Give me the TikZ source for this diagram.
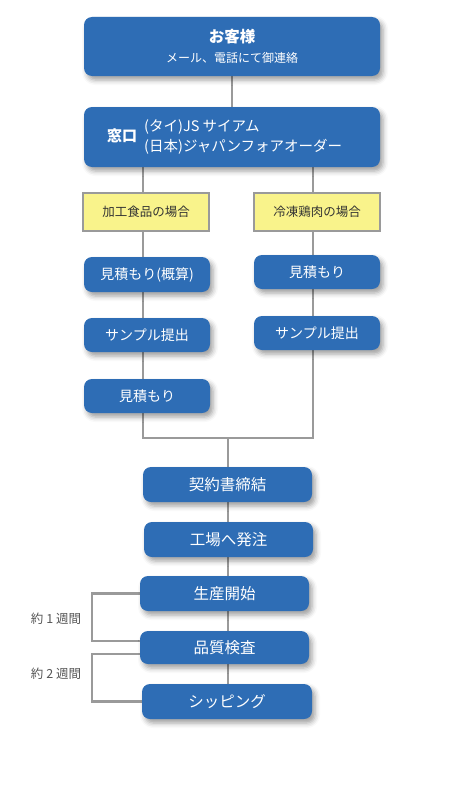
\documentclass[tikz,border=0pt]{standalone}
\usepackage{fontspec}
\setmainfont{Noto Sans CJK JP}
\usetikzlibrary{shadows.blur,backgrounds}
\definecolor{boxblue}{HTML}{2E6DB5}
\definecolor{linegray}{HTML}{9A9A9A}
\definecolor{noteyellow}{HTML}{F9F38B}
\definecolor{labgray}{HTML}{555555}
\begin{document}
\begin{tikzpicture}[x=1pt,y=-1pt,
  bluebox/.style={rectangle, rounded corners=8pt, fill=boxblue, text=white, inner sep=0pt, align=center,
    blur shadow={shadow xshift=3pt, shadow yshift=-4pt, shadow opacity=38, shadow blur radius=5pt}},
  colbox/.style={bluebox, minimum width=126pt, minimum height=34pt, font=\fontsize{14}{16}\selectfont},
  midbox/.style={bluebox, minimum width=169pt, minimum height=35pt, font=\fontsize{15.5}{17}\selectfont},
  casebox/.style={rectangle, fill=noteyellow, draw=linegray, line width=2.5pt, minimum width=126pt, minimum height=38pt,
    inner sep=0pt, text=black!80, font=\fontsize{12.5}{14}\selectfont},
  conn/.style={draw=linegray, line width=2.2pt},
  lab/.style={text=labgray, font=\fontsize{12.5}{14}\selectfont},
  wtext/.style={text=white, inner sep=0pt}]
\useasboundingbox (0,0) rectangle (450,800);

% top boxes
\node[bluebox, minimum width=296pt, minimum height=59pt] (b1) at (232,46.5) {};
\node[wtext, font=\bfseries\fontsize{15.5}{18}\selectfont] (b1a) at (232,37) {お客様};
\node[wtext, font=\fontsize{12}{14}\selectfont] (b1b) at (232,58) {メール、電話にて御連絡};
\node[bluebox, minimum width=296pt, minimum height=60pt] (b2) at (232,137) {};
\node[wtext, font=\bfseries\fontsize{15}{17}\selectfont] (b2a) at (122,136) {窓口};
\node[wtext, anchor=west, align=left, font=\fontsize{14.5}{20}\selectfont] (b2b) at (144,137)
  {(タイ)JS サイアム\\(日本)ジャパンフォアオーダー};

% case boxes
\node[casebox] (y1) at (146,212) {加工食品の場合};
\node[casebox] (y2) at (317,212) {冷凍鶏肉の場合};

% left column
\node[colbox, minimum height=35pt] (l1) at (147,274.5) {見積もり(概算)};
\node[colbox] (l2) at (147,335) {サンプル提出};
\node[colbox] (l3) at (147,396) {見積もり};

% right column
\node[colbox] (r1) at (317,272) {見積もり};
\node[colbox] (r2) at (317,333) {サンプル提出};

% main flow
\node[midbox] (c1) at (227.5,484.5) {契約書締結};
\node[midbox] (c2) at (228.5,539.5) {工場へ発注};
\node[midbox] (c3) at (224.5,593.5) {生産開始};
\node[midbox, minimum height=33pt] (c4) at (224.5,647.5) {品質検査};
\node[midbox, minimum width=170pt] (c5) at (227,701.5) {シッピング};

% labels
\node[lab] (w1) at (56,619) {約 1 週間};
\node[lab] (w2) at (56,674) {約 2 週間};

\coordinate (jl) at (143,438);
\coordinate (jr) at (313,438);
\coordinate (jc) at (228,438);

\begin{pgfonlayer}{background}
  \draw[conn] (b1) -- (b2);
  \draw[conn] (b2.south -| jl) -- (jl) -- (jr) -- (b2.south -| jr);
  \draw[conn] (jc) -- (c5.north -| jc);
  \draw[conn] (c3.west) -- ++(-48,0) |- ([yshift=6.5pt]c4.west);
  \draw[conn] ([yshift=-6.5pt]c4.west) -- ++(-48,0) |- (c5.west);
\end{pgfonlayer}
\end{tikzpicture}
\end{document}
